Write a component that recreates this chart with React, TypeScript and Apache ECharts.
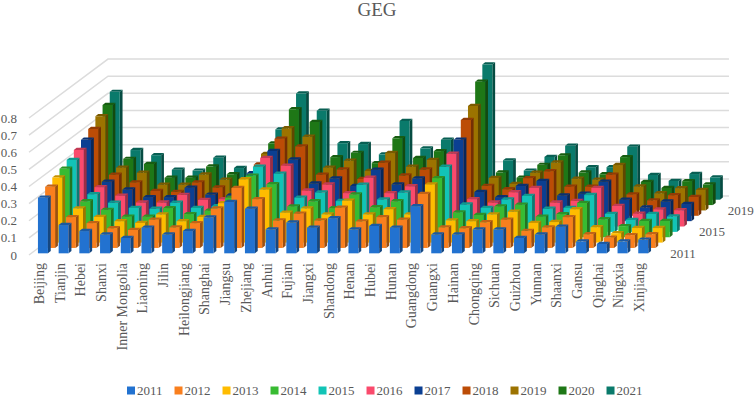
import React, { useEffect, useRef } from "react";
import * as echarts from "echarts";

const provinces = ["Beijing","Tianjin","Hebei","Shanxi","Inner Mongolia","Liaoning","Jilin","Heilongjiang","Shanghai","Jiangsu","Zhejiang","Anhui","Fujian","Jiangxi","Shandong","Henan","Hubei","Hunan","Guangdong","Guangxi","Hainan","Chongqing","Sichuan","Guizhou","Yunnan","Shaanxi","Gansu","Qinghai","Ningxia","Xinjiang"];
const years = ["2011","2012","2013","2014","2015","2016","2017","2018","2019","2020","2021"];
const yTicks = [0,0.1,0.2,0.3,0.4,0.5,0.6,0.7,0.8];
const depthTicks = [0, 4, 8];

const y2011 = [.325,.165,.13,.11,.09,.15,.11,.13,.21,.30,.26,.14,.18,.15,.205,.14,.16,.15,.275,.11,.11,.14,.14,.09,.11,.155,.07,.055,.07,.08];
const y2012 = [.357,.18,.145,.115,.105,.165,.12,.145,.23,.35,.285,.16,.2,.16,.235,.155,.18,.165,.315,.12,.115,.15,.165,.1,.12,.18,.08,.06,.075,.08];
const y2013 = [.38,.2,.15,.125,.115,.165,.125,.15,.23,.37,.31,.175,.2,.165,.245,.165,.195,.165,.34,.13,.125,.165,.18,.115,.12,.195,.09,.055,.085,.085];
const y2014 = [.40,.21,.16,.12,.12,.17,.135,.155,.23,.36,.31,.18,.21,.17,.25,.175,.21,.18,.345,.145,.13,.18,.19,.12,.135,.2,.105,.065,.095,.095];
const y2015 = [.42,.22,.17,.14,.135,.17,.14,.15,.24,.38,.34,.2,.23,.18,.275,.19,.23,.2,.38,.16,.14,.19,.21,.135,.14,.215,.105,.07,.105,.09];
const y2016 = [.447,.23,.18,.14,.14,.185,.155,.16,.25,.40,.355,.21,.245,.195,.285,.195,.235,.2,.425,.16,.14,.2,.225,.14,.15,.225,.12,.075,.1,.095];
const y2017 = [.475,.23,.185,.14,.14,.195,.155,.15,.28,.41,.36,.22,.25,.205,.30,.215,.25,.22,.475,.17,.14,.205,.235,.15,.16,.23,.125,.08,.115,.1];
const y2018 = [.507,.24,.195,.145,.14,.195,.165,.15,.30,.45,.405,.24,.27,.215,.31,.235,.27,.25,.56,.175,.155,.22,.26,.17,.17,.24,.125,.09,.12,.11];
const y2019 = [.55,.25,.22,.15,.15,.21,.18,.16,.33,.48,.43,.25,.29,.23,.335,.255,.295,.26,.61,.19,.155,.22,.28,.185,.18,.265,.14,.1,.13,.12];
const y2020 = [.585,.27,.24,.16,.16,.225,.18,.17,.36,.56,.485,.28,.305,.245,.39,.275,.315,.27,.72,.19,.16,.235,.29,.19,.18,.28,.135,.1,.14,.12];
const y2021 = [.63,.29,.26,.175,.17,.245,.185,.18,.41,.62,.52,.33,.325,.265,.46,.30,.35,.28,.79,.23,.17,.25,.315,.19,.19,.31,.145,.11,.15,.13];
const rows = [y2011,y2012,y2013,y2014,y2015,y2016,y2017,y2018,y2019,y2020,y2021];
const colors = ["#2272D0","#F97F1E","#FFBC00","#38BB32","#12C4B6","#FA4A6C","#0B3F92","#BC4C06","#9C7300","#1E7716","#0A7A6B"];

const FONT = "'Liberation Serif', serif";
const TEXT = "#595959";
const ROW_DX = 7.18, ROW_DY = 5.36, ROWS = 11;
const BAR_W = 10, SIDE_DX = 2.8, SIDE_DY = 2.2;

function shade(hex: string, f: number) {
  const n = parseInt(hex.slice(1), 16);
  const c = [(n >> 16) & 255, (n >> 8) & 255, n & 255].map((v) => Math.round(v * f));
  return `rgb(${c[0]},${c[1]},${c[2]})`;
}

function barRenderer(row: number) {
  const base = colors[row];
  const sx = ROW_DX * (row + 0.5), sy = ROW_DY * (row + 0.5);
  return (_: any, api: any) => {
    const i = api.value(0), v = api.value(1);
    const [cx, top0] = api.coord([i, v]);
    const [, bot0] = api.coord([i, 0]);
    const l = cx + sx - BAR_W / 2, r = l + BAR_W;
    const t = top0 - sy + 1, b = bot0 - sy + 1;
    return {
      type: "group",
      children: [
        { type: "polygon", shape: { points: [[r, t], [r + SIDE_DX, t - SIDE_DY], [r + SIDE_DX, b - SIDE_DY], [r, b]] }, style: { fill: shade(base, 0.62) } },
        { type: "polygon", shape: { points: [[l, t], [l + SIDE_DX, t - SIDE_DY], [r + SIDE_DX, t - SIDE_DY], [r, t]] }, style: { fill: shade(base, 0.78) } },
        { type: "rect", shape: { x: l, y: t, width: BAR_W, height: b - t }, style: { fill: base } },
      ],
    };
  };
}

function wallRenderer(_: any, api: any) {
  const v = api.value(0);
  const [x0, y0] = api.coord([0, v]);
  const band = api.size([1, 0])[0];
  const left = x0 - band / 2;
  const right = left + band * provinces.length;
  const dx = ROW_DX * ROWS, dy = ROW_DY * ROWS;
  return {
    type: "polyline",
    shape: { points: [[left, y0], [left + dx, y0 - dy], [right + dx, y0 - dy]] },
    style: { stroke: "#DCDCDC", lineWidth: 1.5, fill: "none" },
  };
}

function depthRenderer(_: any, api: any) {
  const k = api.value(0);
  const [x0, y0] = api.coord([provinces.length - 1, 0]);
  return {
    type: "text",
    style: {
      text: years[k],
      x: x0 + 27 + ROW_DX * (k + 0.5),
      y: y0 - ROW_DY * (k + 0.5) + 1,
      fontFamily: FONT,
      fontSize: 13,
      fill: TEXT,
      align: "left",
      verticalAlign: "middle",
    },
  };
}

export default function App() {
  const ref = useRef<HTMLDivElement>(null);
  useEffect(() => {
    const chart = echarts.init(ref.current!, undefined, { renderer: "svg" });
    chart.setOption({
      animation: false,
      title: { text: "GEG", left: "center", top: 0, padding: 0, textStyle: { fontFamily: FONT, fontSize: 19, fontWeight: "normal", color: TEXT } },
      grid: { left: 29, right: 104, top: 118, bottom: 142, containLabel: false, outerBoundsMode: "none" },
      xAxis: {
        type: "category", data: provinces, axisLine: { show: false }, axisTick: { show: false }, splitLine: { show: false },
        axisLabel: { rotate: 90, interval: 0, margin: 8, fontFamily: FONT, fontSize: 14, color: TEXT },
      },
      yAxis: {
        type: "value", min: 0, max: 0.8, interval: 0.1, axisLine: { show: false }, axisTick: { show: false }, splitLine: { show: false },
        axisLabel: { margin: 12, fontFamily: FONT, fontSize: 13, color: TEXT },
      },
      legend: {
        data: years, left: 127, top: 384, padding: 0, itemWidth: 8, itemHeight: 8, itemGap: 12, icon: "rect",
        textStyle: { fontFamily: FONT, fontSize: 13, color: TEXT, padding: [0, 0, 0, -3] }, selectedMode: false,
      },
      series: [
        { type: "custom", name: "wall", silent: true, z: 1, clip: false, coordinateSystem: "cartesian2d", data: yTicks.map((v) => [v]), encode: { y: 0 }, renderItem: wallRenderer },
        { type: "custom", name: "depth", silent: true, z: 1, clip: false, coordinateSystem: "cartesian2d", data: depthTicks.map((k) => [k]), renderItem: depthRenderer },
        ...rows.map((vals, k) => ({
          type: "custom", name: years[k], silent: true, z: 20 - k, clip: false, coordinateSystem: "cartesian2d",
          itemStyle: { color: colors[k] }, data: vals.map((v, i) => [i, v]), encode: { x: 0, y: 1 }, renderItem: barRenderer(k),
        })),
      ],
    });
    return () => chart.dispose();
  }, []);
  return <div ref={ref} style={{ position: "fixed", left: 0, top: 0, width: 754, height: 397, background: "#fff" }} />;
}
